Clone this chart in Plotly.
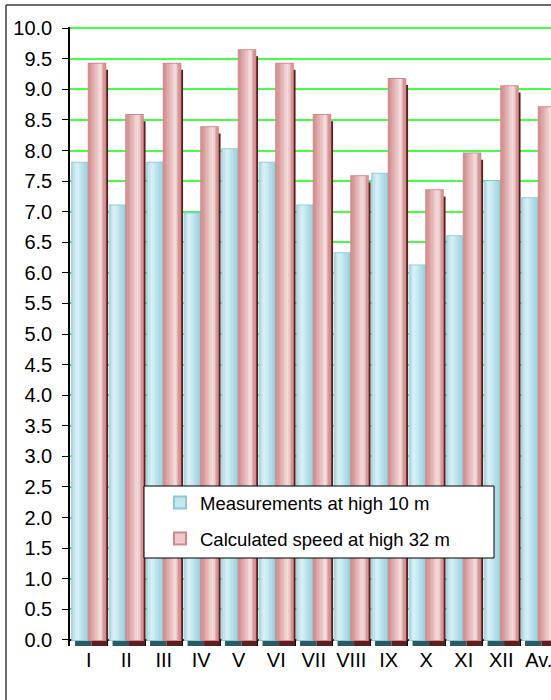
import plotly.graph_objects as go

# Monthly mean wind speed (m/s)
months = ["I", "II", "III", "IV", "V", "VI", "VII", "VIII", "IX", "X", "XI", "XII", "Av."]
measured_10m = [7.80, 7.10, 7.80, 6.97, 8.02, 7.80, 7.10, 6.32, 7.62, 6.12, 6.60, 7.50, 7.22]
calculated_32m = [9.42, 8.58, 9.42, 8.38, 9.64, 9.42, 8.58, 7.58, 9.17, 7.35, 7.95, 9.05, 8.71]

series_names = ["Measurements at high 10 m", "Calculated speed at high 32 m"]
y_ticks = [i * 0.5 for i in range(21)]

# page geometry (px)
W, H = 551, 700
ML, MR, MT, MB = 70, 0, 27, 54
PW, PH = W - ML - MR, H - MT - MB

FONT = "Liberation Sans, Arial, sans-serif"

# bar styling: horizontal shading profiles, outline and 3D depth colour
styles = [
    dict(offset=-0.44, width=0.44, border="#8cc8d6", depth="#2b5a65", legend_fill="#c6e7ef",
         stops=[(0.0, (158, 210, 222)), (0.15, (200, 232, 240)), (0.32, (218, 240, 245)),
                (0.6, (186, 226, 236)), (0.85, (162, 213, 226)), (1.0, (146, 205, 220))]),
    dict(offset=0.0, width=0.44, border="#cf8787", depth="#5c1e1e", legend_fill="#eccaca",
         stops=[(0.0, (210, 140, 140)), (0.2, (219, 158, 158)), (0.5, (234, 196, 196)),
                (0.74, (244, 223, 223)), (0.9, (223, 170, 170)), (1.0, (206, 137, 137))]),
]
DEPTH_DX, DEPTH_DY = 0.075, 0.1
N_SLICES = 12


def shade(stops, t):
    for (t0, c0), (t1, c1) in zip(stops, stops[1:]):
        if t0 <= t <= t1:
            f = (t - t0) / (t1 - t0) if t1 > t0 else 0
            return "rgb({},{},{})".format(*[round(a + (b - a) * f) for a, b in zip(c0, c1)])
    return "rgb({},{},{})".format(*stops[-1][1])


fig = go.Figure()
data = [measured_10m, calculated_32m]

# depth faces (bars shifted right and down)
for vals, st in zip(data, styles):
    fig.add_trace(go.Bar(
        x=months, y=vals, base=[-DEPTH_DY] * len(vals),
        offset=st["offset"] + DEPTH_DX, width=st["width"],
        marker=dict(color=st["depth"], line=dict(width=0)),
        showlegend=False, hoverinfo="skip"))

# front faces: outlined base bar, then shaded vertical slices on top
for k, (vals, st, name) in enumerate(zip(data, styles, series_names)):
    fig.add_trace(go.Bar(
        x=months, y=vals, name=name, legendgroup=f"g{k}", legendrank=k + 1,
        offset=st["offset"], width=st["width"],
        marker=dict(color=st["legend_fill"], line=dict(color=st["border"], width=2))))
    sw = st["width"] / N_SLICES
    for i in range(N_SLICES):
        t = (i + 0.5) / N_SLICES
        w = sw + (0.004 if i < N_SLICES - 1 else 0)
        fig.add_trace(go.Bar(
            x=months, y=vals, offset=st["offset"] + i * sw, width=w,
            marker=dict(color=shade(st["stops"], t), line=dict(width=0)),
            showlegend=False, hoverinfo="skip"))


def px_x(p):
    return (p - ML) / PW


def px_y(p):
    return (H - MB - p) / PH


shapes = [
    # outer chart frame (left and top edges)
    dict(type="line", xref="paper", yref="paper", x0=px_x(6), x1=px_x(6), y0=px_y(5), y1=px_y(H + 5),
         line=dict(color="#3a3a3a", width=1.5)),
    dict(type="line", xref="paper", yref="paper", x0=px_x(6), x1=px_x(W + 5), y0=px_y(5), y1=px_y(5),
         line=dict(color="#3a3a3a", width=1.5)),
    # legend box
    dict(type="rect", xref="paper", yref="paper", x0=px_x(144), x1=px_x(494), y0=px_y(486), y1=px_y(558),
         fillcolor="white", line=dict(color="black", width=1), layer="above"),
]

fig.update_layout(
    width=W, height=H,
    margin=dict(l=ML, r=MR, t=MT, b=MB, pad=0),
    paper_bgcolor="white", plot_bgcolor="white",
    barmode="overlay",
    font=dict(family=FONT, size=20, color="black"),
    shapes=shapes,
    showlegend=True,
    legend=dict(
        x=px_x(160), y=px_y(484), xanchor="left", yanchor="top",
        bgcolor="rgba(0,0,0,0)", borderwidth=0,
        font=dict(family=FONT, size=18.5, color="black"),
        traceorder="grouped", tracegroupgap=9, itemclick=False,
    ),
    xaxis=dict(
        type="category", categoryorder="array", categoryarray=months,
        range=[-0.5, -0.5 + PW / 37.5],
        showline=False, showgrid=False, zeroline=False,
        ticks="inside", ticklen=6, tickwidth=1, tickcolor="black", tickson="boundaries",
        tickangle=0,
        tickfont=dict(family=FONT, size=20, color="black"),
        automargin=False,
    ),
    yaxis=dict(
        range=[-DEPTH_DY, 10.02],
        tickvals=y_ticks, ticktext=[f"{v:.1f}" for v in y_ticks],
        showline=True, linecolor="black", linewidth=1.5,
        ticks="outside", ticklen=6, tickwidth=1, tickcolor="black",
        showgrid=True, gridcolor="#44ff44", gridwidth=1.5,
        zeroline=True, zerolinecolor="black", zerolinewidth=1.5,
        tickfont=dict(family=FONT, size=20, color="black"),
        ticklabelstandoff=6,
        automargin=False,
    ),
)

fig.write_html("out.html")
